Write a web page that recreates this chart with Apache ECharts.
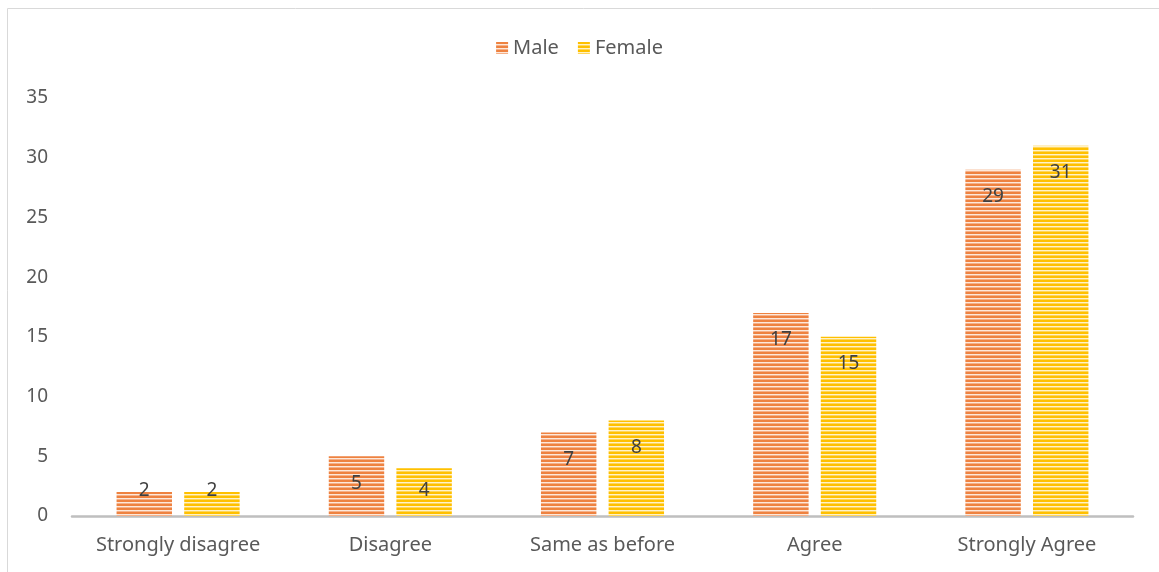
<!DOCTYPE html>
<html>
<head>
<meta charset="utf-8">
<script src="https://cdn.jsdelivr.net/npm/echarts@6/dist/echarts.min.js"></script>
<style>
  html, body { margin: 0; padding: 0; background: #fff; }
  #chart { width: 1159px; height: 572px; }
</style>
</head>
<body>
<div id="chart"></div>
<script>
// Survey responses by gender
const categories = ['Strongly disagree', 'Disagree', 'Same as before', 'Agree', 'Strongly Agree'];
const maleValues = [2, 5, 7, 17, 29];
const femaleValues = [2, 4, 8, 15, 31];
const yTicks = { min: 0, max: 35, interval: 5 };

const FONT = '"Noto Sans", "Open Sans", sans-serif';

// Horizontal-stripe fill used by the bars and legend swatches
function stripes(dark, mid, light) {
  const c = document.createElement('canvas');
  c.width = 4; c.height = 4;
  const g = c.getContext('2d');
  g.fillStyle = dark; g.fillRect(0, 0, 4, 2);
  g.fillStyle = light; g.fillRect(0, 2, 4, 1);
  g.fillStyle = mid; g.fillRect(0, 3, 4, 1);
  return { image: c, repeat: 'repeat' };
}
const maleFill = stripes('#EE8240', '#F5B088', '#FDE8DA');
const femaleFill = stripes('#FFC000', '#FFD65A', '#FFF2C8');

const chart = echarts.init(document.getElementById('chart'), null, { renderer: 'canvas' });

function labelFor(v, pxPerUnit) {
  // inside-end label, kept clear of the axis on short bars
  const y = Math.min(27, v * pxPerUnit - 25);
  return { position: ['50%', y], align: 'center', verticalAlign: 'middle' };
}

function buildData(values, pxPerUnit) {
  return values.map(v => ({ value: v, label: labelFor(v, pxPerUnit) }));
}

const labelStyle = { show: true, fontSize: 19, color: '#404040', fontFamily: FONT };

chart.setOption({
  animation: false,
  textStyle: { fontFamily: FONT },
  graphic: [{
    type: 'rect',
    shape: { x: 7.5, y: 8.5, width: 1300, height: 700 },
    style: { fill: 'none', stroke: '#D9D9D9', lineWidth: 1 },
    silent: true
  }],
  legend: {
    top: 33,
    left: 'center',
    icon: 'rect',
    itemWidth: 12,
    itemHeight: 12,
    itemGap: 19,
    textStyle: { fontSize: 20, color: '#595959', fontFamily: FONT },
    data: ['Male', 'Female']
  },
  grid: { left: 72, right: 26, top: 98, bottom: 56, containLabel: false },
  xAxis: {
    type: 'category',
    data: categories,
    axisLine: { lineStyle: { color: '#BFBFBF', width: 2.5 } },
    axisTick: { show: false },
    axisLabel: { interval: 0, hideOverlap: false, fontSize: 20, color: '#595959', margin: 19, fontFamily: FONT }
  },
  yAxis: {
    type: 'value',
    min: yTicks.min,
    max: yTicks.max,
    interval: yTicks.interval,
    axisLine: { show: false },
    axisTick: { show: false },
    splitLine: { show: false },
    axisLabel: { fontSize: 19, color: '#595959', margin: 24, fontFamily: FONT }
  },
  series: [
    {
      name: 'Male', type: 'bar', data: maleValues,
      barGap: '22%', barCategoryGap: '42%',
      itemStyle: { color: maleFill },
      label: labelStyle
    },
    {
      name: 'Female', type: 'bar', data: femaleValues,
      itemStyle: { color: femaleFill },
      label: labelStyle
    }
  ]
});

// Place value labels using the axis scale once it exists
const px = chart.convertToPixel({ yAxisIndex: 0 }, 0) - chart.convertToPixel({ yAxisIndex: 0 }, 1);
chart.setOption({
  series: [
    { name: 'Male', data: buildData(maleValues, px) },
    { name: 'Female', data: buildData(femaleValues, px) }
  ]
});
</script>
</body>
</html>
